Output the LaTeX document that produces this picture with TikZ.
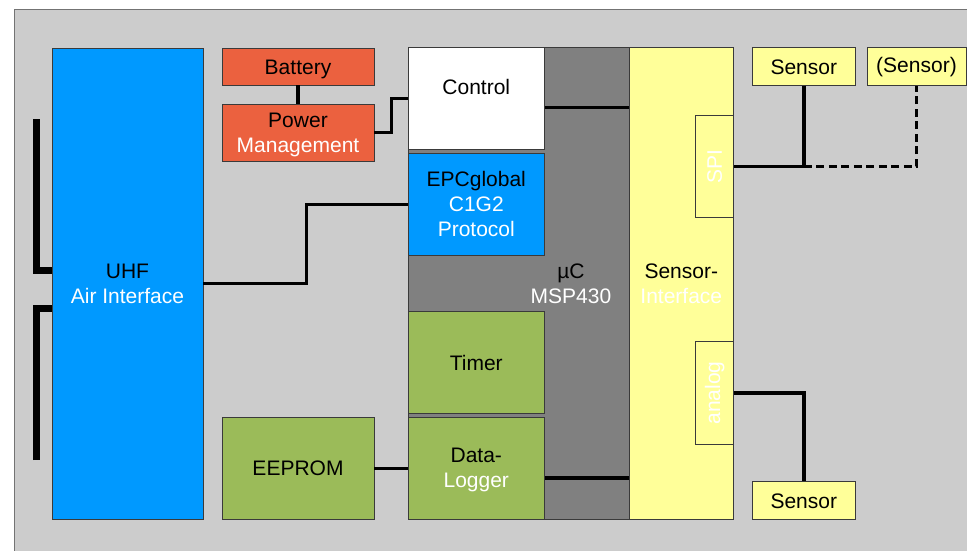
\documentclass[tikz,border=0pt]{standalone}
\usepackage{fontspec}
\setmainfont{Liberation Sans}
\usetikzlibrary{fit}
\definecolor{bgc}{HTML}{CCCCCC}
\definecolor{bluec}{HTML}{0099FF}
\definecolor{orangec}{HTML}{EB613F}
\definecolor{greenc}{HTML}{9BBB59}
\definecolor{yellowc}{HTML}{FFFF99}
\definecolor{mcuc}{HTML}{808080}
\definecolor{edgec}{HTML}{3A3A3A}
\tikzset{
  blk/.style={draw=edgec, line width=0.9pt, inner sep=0pt},
  lbl/.style={inner sep=0pt, align=center, font=\fontsize{21}{25}\selectfont},
  wire/.style={line width=3.5pt, black},
  antline/.style={line width=7pt, black},
  dwire/.style={line width=3.5pt, black, dash pattern=on 8pt off 4.5pt}
}
\begin{document}
\begin{tikzpicture}[x=1pt,y=-1pt]
\useasboundingbox (0,0) rectangle (967,551);
\fill[bgc, draw=black!55, line width=1pt] (14,10) rectangle (980,570);

\node[blk, fill=bluec, fit={(52,48)(203,519)}] (uhf) {};
\node[lbl] (uhftext) at (uhf.center) {UHF\\\textcolor{white}{Air Interface}};
\node[blk, fill=orangec, fit={(222,48)(374,85)}] (battery) {};
\node[lbl, yshift=-2.5pt] (batterytext) at (battery.center) {Battery};
\node[blk, fill=orangec, fit={(222,104)(374,161)}] (pm) {};
\node[lbl, yshift=-2.5pt] (pmtext) at (pm.center) {Power\\\textcolor{white}{Management}};
\node[blk, fill=greenc, fit={(222,417.3)(374,519.3)}] (eeprom) {};
\node[lbl] (eepromtext) at (eeprom.center) {EEPROM};

\node[blk, fill=mcuc, fit={(408,47.7)(629.3,519.3)}] (mcu) {};
\node[lbl] (mcutext) at (571,283.5) {µC\\\textcolor{white}{MSP430}};
\node[blk, fill=white, fit={(408,47.7)(544.6,149.7)}] (control) {};
\node[lbl] (controltext) at (476.3,87) {Control};
\node[blk, fill=bluec, fit={(408,153.3)(544.6,255.3)}] (epc) {};
\node[lbl] (epctext) at (epc.center) {EPCglobal\\\textcolor{white}{C1G2}\\\textcolor{white}{Protocol}};
\node[blk, fill=greenc, fit={(408,311.7)(544.6,413.7)}] (timer) {};
\node[lbl] (timertext) at (timer.center) {Timer};
\node[blk, fill=greenc, fit={(408,417.7)(544.6,519.3)}] (dl) {};
\node[lbl, yshift=-1.5pt] (dltext) at (dl.center) {Data-\\\textcolor{white}{Logger}};

\node[blk, fill=yellowc, fit={(629.3,47.7)(733.4,519.3)}] (si) {};
\node[lbl] (sitext) at (681.3,283.5) {Sensor-\\\textcolor{white}{Interface}};
\node[blk, fill=yellowc, fit={(695.8,115.7)(733.4,217.3)}] (spi) {};
\node[lbl, rotate=90, text=white] (spitext) at (spi.center) {SPI};
\node[blk, fill=yellowc, fit={(695.8,341.7)(733.4,444)}] (analog) {};
\node[lbl, rotate=90, text=white] (analogtext) at (analog.center) {analog};

\node[blk, fill=yellowc, fit={(752.6,47.7)(855,85.3)}] (s1) {};
\node[lbl, yshift=-1pt] (s1text) at (s1.center) {Sensor};
\node[blk, fill=yellowc, fit={(867,47.7)(966,85.3)}] (s2) {};
\node[lbl, yshift=-1pt] (s2text) at (s2.center) {(Sensor)};
\node[blk, fill=yellowc, fit={(752.6,481.3)(855,519.3)}] (s3) {};
\node[lbl, yshift=-1pt] (s3text) at (s3.center) {Sensor};

\coordinate (ant1) at (36,119);
\coordinate (ant2) at (36,460);

% connectors
\draw[wire] (battery.south) -- (pm.north);
\draw[wire] (pm.east) -- ++(17,0) |- (control.west);
\draw[wire] (uhf.east) -- ++(103,0) |- (epc.west);
\draw[wire] ([yshift=-9pt]control.east) -- ([yshift=-9pt]control.east -| si.west);
\draw[wire] ([yshift=-9.5pt]dl.east) -- ([yshift=-9.5pt]dl.east -| si.west);
\draw[wire] (eeprom.east) -- (eeprom.east -| dl.west);
\draw[dwire] (spi.east -| s1.south) -| (s2.south);
\draw[wire] (s1.south) |- (spi.east);
\draw[wire] (analog.east) -| (s3.north);
\draw[antline] (ant1) |- ([yshift=13.5pt]uhf.west);
\draw[antline] (ant2) |- ([yshift=-24.8pt]uhf.west);
\end{tikzpicture}
\end{document}
